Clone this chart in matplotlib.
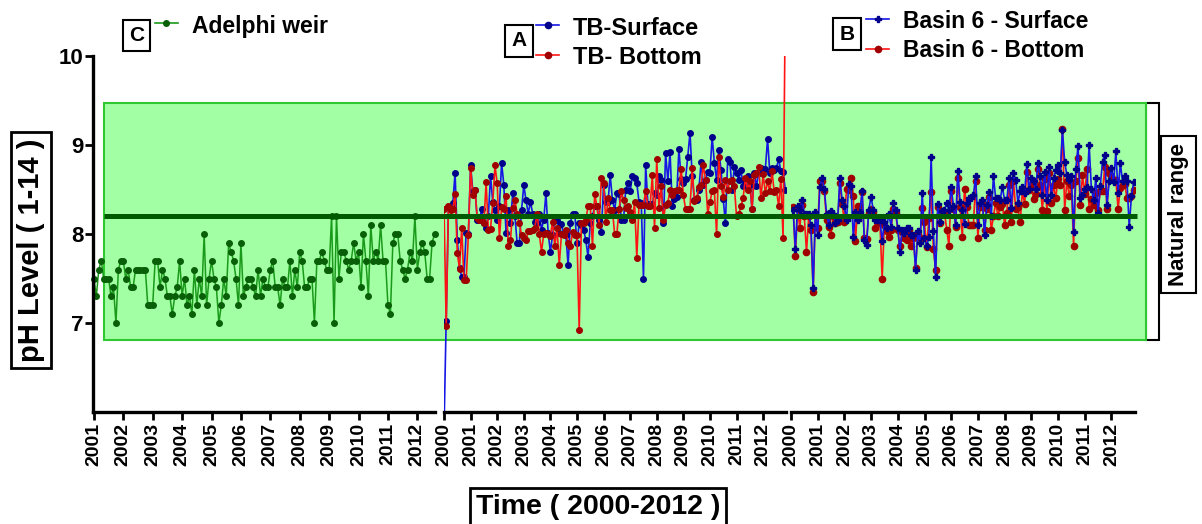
import matplotlib
matplotlib.use('Agg')
import matplotlib.pyplot as plt
from matplotlib.lines import Line2D
from matplotlib.patches import Rectangle
import numpy as np

plt.rcParams['font.family'] = ['Liberation Sans', 'DejaVu Sans']
plt.rcParams['font.weight'] = 'bold'

W, H = 1202, 524

# ---- data (monthly pH readings) ----
adelphi_start = 2001.0
adelphi_ph = [
    7.5, 7.3, 7.6, 7.7, 7.5, 7.5, 7.5, 7.3, 7.4, 7.0, 7.6, 7.7,
    7.7, 7.5, 7.6, 7.4, 7.4, 7.6, 7.6, 7.6, 7.6, 7.6, 7.2, 7.2,
    7.2, 7.7, 7.7, 7.4, 7.6, 7.5, 7.3, 7.3, 7.1, 7.3, 7.4, 7.7,
    7.3, 7.5, 7.2, 7.3, 7.1, 7.6, 7.2, 7.5, 7.3, 8.0, 7.2, 7.5,
    7.7, 7.5, 7.4, 7.0, 7.2, 7.5, 7.3, 7.9, 7.8, 7.7, 7.5, 7.2,
    7.9, 7.3, 7.4, 7.5, 7.5, 7.4, 7.3, 7.6, 7.3, 7.5, 7.4, 7.4,
    7.6, 7.7, 7.4, 7.4, 7.2, 7.5, 7.4, 7.4, 7.7, 7.3, 7.6, 7.4,
    7.8, 7.7, 7.4, 7.4, 7.5, 7.5, 7.0, 7.7, 7.7, 7.8, 7.7, 7.6,
    7.6, 8.2, 7.0, 8.2, 7.5, 7.8, 7.8, 7.7, 7.6, 7.7, 7.9, 7.7,
    7.8, 7.4, 8.0, 7.7, 7.3, 8.1, 7.7, 7.8, 7.7, 8.1, 7.7, 7.7,
    7.2, 7.1, 7.9, 8.0, 8.0, 7.7, 7.6, 7.5, 7.6, 7.8, 7.7, 8.2,
    7.6, 7.8, 7.9, 7.8, 7.5, 7.5, 7.9, 8.0,
]

tb_start = 2000.0
tb_surface = [
    5.80, 7.02, 8.30, 8.31, 8.35, 8.69, 7.93, 7.62, 7.52, 7.52, 8.01, 8.00,
    8.77, 8.48, 8.50, 8.16, 8.16, 8.28, 8.12, 8.07, 8.20, 8.65, 8.36, 8.27,
    8.16, 8.31, 8.80, 8.55, 8.01, 8.27, 8.12, 8.46, 8.20, 7.90, 7.90, 8.27,
    8.55, 8.38, 8.23, 8.36, 8.23, 8.14, 8.12, 8.23, 8.05, 8.16, 8.46, 8.01,
    7.80, 7.99, 8.16, 8.16, 8.01, 8.11, 8.00, 7.99, 7.65, 8.12, 8.23, 8.23,
    7.90, 8.12, 8.10, 8.05, 7.93, 7.74, 8.12, 8.20, 8.31, 8.31, 8.16, 8.02,
    8.55, 8.36, 8.36, 8.66, 8.38, 8.27, 8.46, 8.45, 8.16, 8.16, 8.50, 8.57,
    8.48, 8.65, 8.63, 8.57, 8.36, 8.35, 7.50, 8.78, 8.34, 8.34, 8.34, 8.46,
    8.44, 8.65, 8.61, 8.12, 8.91, 8.60, 8.92, 8.31, 8.39, 8.42, 8.96, 8.62,
    8.57, 8.62, 8.87, 9.14, 8.65, 8.38, 8.38, 8.50, 8.81, 8.55, 8.61, 8.70,
    8.69, 9.09, 8.80, 8.61, 8.94, 8.72, 8.39, 8.12, 8.84, 8.81, 8.50, 8.75,
    8.69, 8.61, 8.72, 8.54, 8.61, 8.65, 8.55, 8.28, 8.69, 8.54, 8.69, 8.74,
    8.72, 8.73, 9.07, 8.69, 8.74, 8.72, 8.74, 8.84, 8.71, 8.70, 8.50,
]
tb_bottom = [
    8.28, 6.97, 8.31, 8.27, 8.28, 8.45, 7.79, 7.61, 8.07, 7.48, 7.48, 7.99,
    8.74, 8.44, 8.50, 8.18, 8.16, 8.16, 8.12, 8.58, 8.05, 8.06, 8.35, 8.77,
    8.57, 7.95, 8.30, 8.28, 8.43, 7.86, 7.93, 8.29, 8.38, 8.23, 8.12, 7.99,
    7.95, 7.93, 8.03, 8.03, 8.05, 8.07, 8.23, 8.00, 7.80, 8.00, 8.01, 8.00,
    7.98, 8.14, 7.86, 8.07, 7.65, 8.00, 7.99, 8.05, 7.90, 7.86, 8.02, 7.99,
    7.99, 6.92, 8.12, 8.12, 8.16, 8.31, 8.31, 7.86, 8.45, 8.31, 8.10, 8.63,
    8.57, 8.14, 8.40, 8.27, 8.27, 8.00, 8.00, 8.28, 8.48, 8.38, 8.29, 8.31,
    8.25, 8.16, 8.36, 7.73, 8.33, 8.33, 8.33, 8.48, 8.31, 8.31, 8.66, 8.07,
    8.84, 8.29, 8.54, 8.16, 8.33, 8.35, 8.50, 8.44, 8.48, 8.50, 8.50, 8.73,
    8.44, 8.28, 8.28, 8.28, 8.74, 8.37, 8.40, 8.53, 8.55, 8.77, 8.61, 8.23,
    8.36, 8.48, 8.49, 8.00, 8.87, 8.54, 8.42, 8.61, 8.50, 8.59, 8.61, 8.54,
    8.20, 8.22, 8.31, 8.41, 8.63, 8.50, 8.59, 8.28, 8.66, 8.68, 8.75, 8.40,
    8.67, 8.46, 8.59, 8.48, 8.71, 8.47, 8.50, 8.31, 8.62, 7.96, 10.60,
]

basin_start = 2000.08
basin_surface = [
    8.27, 7.83, 8.31, 8.27, 8.38, 8.23, 8.23, 8.23, 8.10, 7.39, 8.25, 7.99,
    8.53, 8.63, 8.51, 8.23, 8.10, 8.26, 8.23, 8.12, 8.16, 8.63, 8.38, 8.31,
    8.16, 8.56, 8.54, 7.97, 8.25, 8.16, 8.25, 8.48, 7.93, 7.88, 8.27, 8.42,
    8.27, 8.16, 8.16, 8.16, 7.92, 8.14, 8.07, 8.23, 8.08, 8.35, 8.27, 8.07,
    7.80, 8.05, 8.01, 8.07, 8.07, 7.99, 7.99, 7.60, 8.03, 7.90, 8.46, 7.95,
    7.86, 7.97, 8.87, 8.03, 7.52, 8.34, 8.14, 8.26, 8.27, 8.35, 8.27, 8.53,
    8.32, 8.10, 8.71, 8.36, 8.27, 8.11, 8.35, 8.40, 8.41, 8.44, 8.65, 8.10,
    8.35, 8.38, 7.99, 8.33, 8.47, 8.20, 8.65, 8.40, 8.40, 8.38, 8.53, 8.38,
    8.38, 8.63, 8.29, 8.68, 8.61, 8.35, 8.48, 8.53, 8.46, 8.79, 8.51, 8.63,
    8.59, 8.51, 8.80, 8.65, 8.44, 8.70, 8.38, 8.75, 8.44, 8.63, 8.72, 8.77,
    8.68, 9.17, 8.81, 8.66, 8.61, 8.65, 8.02, 8.73, 8.99, 8.40, 8.44, 8.51,
    8.53, 9.00, 8.51, 8.38, 8.63, 8.24, 8.54, 8.81, 8.89, 8.33, 8.59, 8.74,
    8.58, 8.93, 8.46, 8.80, 8.59, 8.65, 8.59, 8.08, 8.43, 8.58,
]
basin_bottom = [
    8.30, 7.75, 8.28, 8.07, 8.33, 8.20, 7.80, 8.20, 8.05, 7.35, 8.22, 8.07,
    8.59, 8.60, 8.48, 8.16, 8.08, 7.99, 8.20, 8.12, 8.14, 8.57, 8.34, 8.14,
    8.51, 8.50, 8.63, 8.43, 7.92, 8.31, 8.22, 8.47, 7.95, 7.94, 8.24, 8.28,
    8.25, 8.07, 8.13, 8.12, 7.50, 8.10, 8.03, 7.97, 8.05, 8.28, 8.24, 8.04,
    7.86, 8.02, 7.95, 7.93, 8.04, 7.86, 7.96, 7.62, 8.00, 7.96, 8.29, 8.13,
    7.85, 8.18, 8.47, 7.83, 7.60, 8.30, 8.12, 8.22, 8.24, 8.05, 7.87, 8.48,
    8.28, 8.08, 8.63, 8.30, 7.97, 8.51, 8.30, 8.10, 8.10, 8.10, 8.60, 7.95,
    8.30, 8.34, 8.05, 8.28, 8.42, 8.04, 8.20, 8.35, 8.20, 8.30, 8.34, 8.10,
    8.24, 8.55, 8.13, 8.60, 8.28, 8.30, 8.13, 8.48, 8.34, 8.70, 8.49, 8.55,
    8.39, 8.45, 8.73, 8.55, 8.27, 8.62, 8.26, 8.68, 8.35, 8.55, 8.40, 8.62,
    8.55, 9.18, 8.27, 8.60, 8.43, 8.55, 7.87, 8.60, 8.85, 8.33, 8.66, 8.45,
    8.73, 8.28, 8.39, 8.33, 8.46, 8.27, 8.48, 8.48, 8.75, 8.28, 8.68, 8.65,
    8.61, 8.61, 8.28, 8.52, 8.55, 8.56, 8.40, 8.41, 8.43, 8.50,
]

natural_low, natural_high = 6.81, 9.47
reference_ph = 8.2
years_adelphi = list(range(2001, 2013))
years_tb = list(range(2000, 2013))
y_ticks = [7, 8, 9, 10]


def months(start, values):
    return start + np.arange(len(values)) / 12.0


def px_box(x0, y0, x1, y1):
    return [x0 / W, 1 - y1 / H, (x1 - x0) / W, (y1 - y0) / H]


def fx(x):
    return x / W


def fy(y):
    return 1 - y / H


fig = plt.figure(figsize=(W / 100, H / 100), dpi=100)

# background band spanning all three panels (x in pixel units)
bg = fig.add_axes(px_box(93, 56, 1202, 412))
bg.set_xlim(93, 1202)
bg.set_ylim(6, 10)
bg.axis('off')
bg.add_patch(Rectangle((1146, natural_low), 13, natural_high - natural_low,
                       facecolor='white', edgecolor='black', lw=1.5, zorder=1))
bg.add_patch(Rectangle((104, natural_low), 1146 - 104, natural_high - natural_low,
                       facecolor='#a3ffa3', edgecolor='#30c830', lw=1.5, zorder=2))

blue_line, blue_mk = '#1515e6', '#00008b'
red_line, red_mk = '#ff1414', '#a00000'

panels = [
    (px_box(93, 56, 435, 412), (2000.97, 2012.6), years_adelphi),
    (px_box(444, 56, 786, 412), (2000.0, 2012.86), years_tb),
    (px_box(791, 56, 1135, 412), (2000.0, 2012.88), years_tb),
]
axes = []
for i, (rect, xlim, yrs) in enumerate(panels):
    ax = fig.add_axes(rect)
    ax.patch.set_alpha(0)
    ax.set_xlim(*xlim)
    ax.set_ylim(6, 10)
    for s in ['top', 'right']:
        ax.spines[s].set_visible(False)
    ax.spines['bottom'].set_linewidth(2.4)
    ax.set_xticks(yrs)
    ax.set_xticklabels([str(y) for y in yrs], rotation=90, fontsize=14, fontweight='bold')
    ax.tick_params(axis='x', length=6, width=2, pad=2)
    if i == 0:
        ax.spines['left'].set_linewidth(2.4)
        ax.set_yticks(y_ticks)
        ax.set_yticklabels([str(t) for t in y_ticks], fontsize=16, fontweight='bold')
        ax.tick_params(axis='y', length=6, width=2, pad=1)
    else:
        ax.spines['left'].set_visible(False)
        ax.set_yticks([])
    axes.append(ax)

ax1, ax2, ax3 = axes

ax1.plot(months(adelphi_start, adelphi_ph), adelphi_ph, color='#1a9a1a', lw=1.1,
         marker='o', ms=4, mfc='#085f08', mec='#085f08', clip_on=False)

ax2.plot(months(tb_start, tb_surface), tb_surface, color=blue_line, lw=1.2,
         marker='o', ms=4, mfc=blue_mk, mec=blue_mk)
ax2.plot(months(tb_start, tb_bottom), tb_bottom, color=red_line, lw=1.2,
         marker='o', ms=4, mfc=red_mk, mec=red_mk)

ax3.plot(months(basin_start, basin_bottom), basin_bottom, color=red_line, lw=1.2,
         marker='o', ms=4.5, mfc=red_mk, mec=red_mk)
ax3.plot(months(basin_start, basin_surface), basin_surface, color=blue_line, lw=1.2,
         marker='P', ms=4.5, mfc=blue_mk, mec=blue_mk)

# reference line drawn over the data
ov = fig.add_axes(px_box(93, 56, 1202, 412))
ov.set_xlim(93, 1202)
ov.set_ylim(6, 10)
ov.axis('off')
ov.plot([104, 1137], [reference_ph, reference_ph], color='#005a00', lw=3.6, solid_capstyle='butt')


# boxed letters and legends
def letter(x, y, s):
    fig.text(fx(x), fy(y), s, ha='center', va='center', fontsize=15, fontweight='bold',
             bbox=dict(boxstyle='square,pad=0.3', fc='white', ec='black', lw=1.5))


def handle(x0, x1, y, color, mcolor, marker, ms):
    fig.add_artist(Line2D([fx(x0), fx(x1)], [fy(y), fy(y)], color=color, lw=1.2))
    fig.add_artist(Line2D([fx((x0 + x1) / 2)], [fy(y)], marker=marker, ms=ms,
                          color=mcolor, lw=0))


letter(136.5, 35.5, 'C')
handle(155, 178, 23, '#1a9a1a', '#085f08', 'o', 4)
fig.text(fx(192), fy(33), 'Adelphi weir', fontsize=16.5, fontweight='bold', va='baseline')

letter(519, 41, 'A')
handle(536, 559, 25, blue_line, blue_mk, 'o', 4.5)
handle(536, 559, 55, red_line, red_mk, 'o', 4.5)
fig.text(fx(573), fy(35), 'TB-Surface', fontsize=17, fontweight='bold', va='baseline')
fig.text(fx(573), fy(64), 'TB- Bottom', fontsize=17, fontweight='bold', va='baseline')

letter(847, 34, 'B')
handle(866, 889, 19, blue_line, blue_mk, 'P', 4)
handle(866, 889, 49, red_line, red_mk, 'o', 4.5)
fig.text(fx(903), fy(28), 'Basin 6 - Surface', fontsize=16.5, fontweight='bold', va='baseline')
fig.text(fx(903), fy(57), 'Basin 6 - Bottom', fontsize=16.5, fontweight='bold', va='baseline')

# axis titles
fig.text(fx(31), fy(250), 'pH Level ( 1-14 )', rotation=90, ha='center', va='center',
         fontsize=21, fontweight='bold',
         bbox=dict(boxstyle='square,pad=0.2', fc='white', ec='black', lw=2))
fig.text(fx(598), fy(507), 'Time ( 2000-2012 )', ha='center', va='center',
         fontsize=20.5, fontweight='bold',
         bbox=dict(boxstyle='square,pad=0.2', fc='white', ec='black', lw=2))
fig.text(fx(1178.5), fy(214.5), 'Natural range', rotation=90, ha='center', va='center',
         fontsize=16, fontweight='bold',
         bbox=dict(boxstyle='square,pad=0.3', fc='white', ec='black', lw=1.5))

fig.savefig('out.png', dpi=100)
